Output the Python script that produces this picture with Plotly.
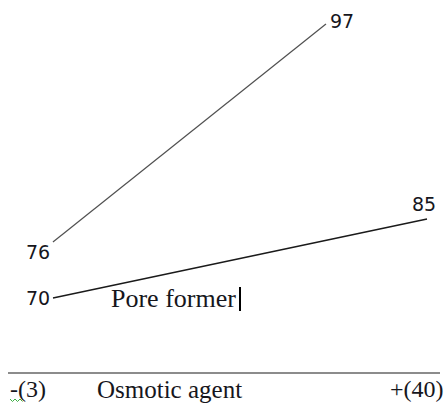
import plotly.graph_objects as go

# Data
levels = [0, 1]                 # osmotic agent: low (-) / high (+)
level_labels = ["-(3)", "+(40)"]
series_a = [76, 97]             # upper line
series_b = [70, 85]             # lower line
factor_x = "Osmotic agent"
factor_line = "Pore former"

W, H = 448, 404
TXT = "#16161c"

fig = go.Figure()
fig.add_trace(go.Scatter(x=levels, y=series_a, mode="lines",
                         line=dict(color="#505050", width=1.2),
                         xaxis="x", yaxis="y", hoverinfo="skip"))
fig.add_trace(go.Scatter(x=levels, y=series_b, mode="lines",
                         line=dict(color="#1a1a1a", width=1.4),
                         xaxis="x2", yaxis="y2", hoverinfo="skip"))

num_font = dict(family="DejaVu Sans", size=19, color=TXT)
ann = []
# value labels for series A
ann.append(dict(x=levels[0], y=series_a[0], xref="x", yref="y", text=str(series_a[0]),
                showarrow=False, xanchor="right", yanchor="middle", xshift=-1, yshift=-10, font=num_font))
ann.append(dict(x=levels[1], y=series_a[1], xref="x", yref="y", text=str(series_a[1]),
                showarrow=False, xanchor="left", yanchor="middle", xshift=2, yshift=3, font=num_font))
# value labels for series B
ann.append(dict(x=levels[0], y=series_b[0], xref="x2", yref="y2", text=str(series_b[0]),
                showarrow=False, xanchor="right", yanchor="middle", xshift=-1, yshift=0, font=num_font))
ann.append(dict(x=levels[1], y=series_b[1], xref="x2", yref="y2", text=str(series_b[1]),
                showarrow=False, xanchor="center", yanchor="middle", xshift=-3, yshift=15, font=num_font))

serif = dict(family="Liberation Serif", size=24, color=TXT)
serif_big = dict(family="Liberation Serif", size=26, color=TXT)
serif_mid = dict(family="Liberation Serif", size=25, color=TXT)
ann.append(dict(x=109 / W, y=1 - 298 / H, xref="paper", yref="paper", text=factor_line,
                showarrow=False, xanchor="left", yanchor="middle", font=serif_big))
ann.append(dict(x=8 / W, y=1 - 389 / H, xref="paper", yref="paper", text=level_labels[0],
                showarrow=False, xanchor="left", yanchor="middle", font=serif))
ann.append(dict(x=95 / W, y=1 - 389 / H, xref="paper", yref="paper", text=factor_x,
                showarrow=False, xanchor="left", yanchor="middle", font=serif_mid))
ann.append(dict(x=446 / W, y=1 - 389 / H, xref="paper", yref="paper", text=level_labels[1],
                showarrow=False, xanchor="right", yanchor="middle", font=serif))

shapes = [
    # baseline rule
    dict(type="line", xref="paper", yref="paper", x0=8 / W, x1=440 / W,
         y0=1 - 373 / H, y1=1 - 373 / H, line=dict(color="#1a1a1a", width=1.2)),
    # text cursor
    dict(type="line", xref="paper", yref="paper", x0=240 / W, x1=240 / W,
         y0=1 - 287 / H, y1=1 - 311 / H, line=dict(color="#000000", width=2)),
    # spell-check squiggle
    dict(type="path", xref="paper", yref="paper",
         path="M {0},{1} L {2},{3} L {4},{1} L {5},{3} L {6},{1} L {7},{3}".format(
             10 / W, 1 - 399 / H, 12.5 / W, 1 - 401.5 / H, 15 / W, 17.5 / W, 20 / W, 22.5 / W),
         line=dict(color="#3cb043", width=1)),
]

fig.update_layout(
    width=W, height=H, margin=dict(l=0, r=0, t=0, b=0),
    paper_bgcolor="white", plot_bgcolor="white", showlegend=False,
    annotations=ann, shapes=shapes,
    xaxis=dict(range=[-0.194, 1.447], visible=False, domain=[0, 1]),
    xaxis2=dict(range=[-0.1417, 1.0561], visible=False, domain=[0, 1], overlaying="x"),
    yaxis=dict(range=[60.39, 99.31], visible=False, domain=[0, 1]),
    yaxis2=dict(range=[49.87, 126.58], visible=False, domain=[0, 1], overlaying="y"),
)

fig.write_html("out.html", config=dict(displayModeBar=False),
               post_script="document.body.style.margin='0';document.body.style.overflow='hidden';")
